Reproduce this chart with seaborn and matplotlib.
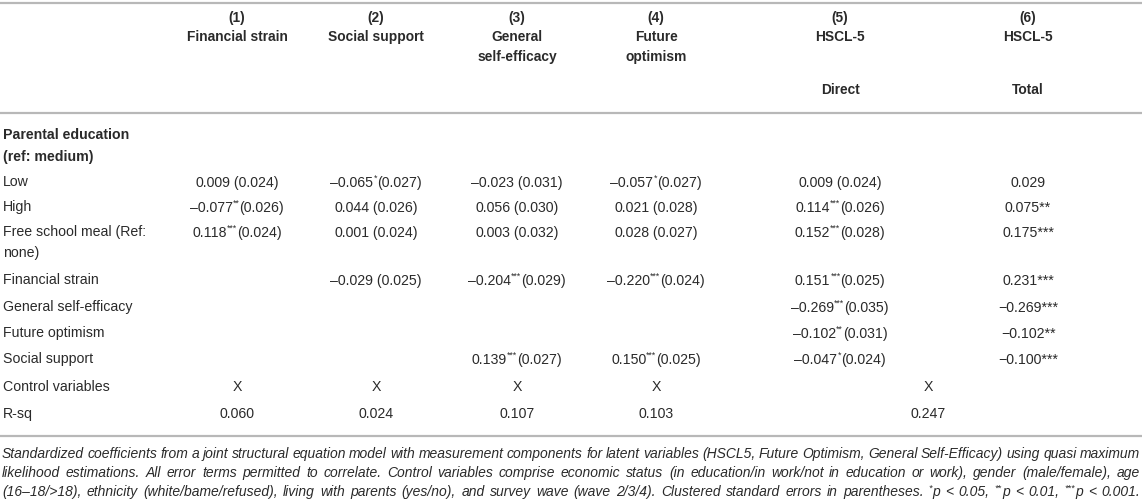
import numpy as np
import matplotlib
matplotlib.use("Agg")
import matplotlib.pyplot as plt
import seaborn as sns

# header of the table
col_nums = ["(1)", "(2)", "(3)", "(4)", "(5)", "(6)"]
col_names = ["Financial strain", "Social support", "General\nself-efficacy", "Future\noptimism", "HSCL-5", "HSCL-5"]
col_sub = ["", "", "", "", "Direct", "Total"]

# row labels of the coefficient block
row_labels = ["Low", "High", "Free school meal (Ref:\nnone)", "Financial strain",
              "General self-efficacy", "Future optimism", "Social support"]

# (1) Financial strain
fin_b = [0.009, -0.077, 0.118, np.nan, np.nan, np.nan, np.nan]
fin_se = [0.024, 0.026, 0.024, np.nan, np.nan, np.nan, np.nan]
fin_sig = ["", "**", "***", "", "", "", ""]
# (2) Social support
soc_b = [-0.065, 0.044, 0.001, -0.029, np.nan, np.nan, np.nan]
soc_se = [0.027, 0.026, 0.024, 0.025, np.nan, np.nan, np.nan]
soc_sig = ["*", "", "", "", "", "", ""]
# (3) General self-efficacy
gse_b = [-0.023, 0.056, 0.003, -0.204, np.nan, np.nan, 0.139]
gse_se = [0.031, 0.030, 0.032, 0.029, np.nan, np.nan, 0.027]
gse_sig = ["", "", "", "***", "", "", "***"]
# (4) Future optimism
fo_b = [-0.057, 0.021, 0.028, -0.220, np.nan, np.nan, 0.150]
fo_se = [0.027, 0.028, 0.027, 0.024, np.nan, np.nan, 0.025]
fo_sig = ["*", "", "", "***", "", "", "***"]
# (5) HSCL-5 direct
dir_b = [0.009, 0.114, 0.152, 0.151, -0.269, -0.102, -0.047]
dir_se = [0.024, 0.026, 0.028, 0.025, 0.035, 0.031, 0.024]
dir_sig = ["", "***", "***", "***", "***", "**", "*"]
# (6) HSCL-5 total
tot_b = [0.029, 0.075, 0.175, 0.231, -0.269, -0.102, -0.100]
tot_sig = ["", "**", "***", "***", "***", "**", "***"]

controls = ["X", "X", "X", "X", "X"]
r_sq = [0.060, 0.024, 0.107, 0.103, 0.247]

note_lines = [
    "Standardized coefficients from a joint structural equation model with measurement components for latent variables (HSCL5, Future Optimism, General Self-Efficacy) using quasi maximum",
    "likelihood estimations. All error terms permitted to correlate. Control variables comprise economic status (in education/in work/not in education or work), gender (male/female), age",
    "(16\u201318/>18), ethnicity (white/bame/refused), living with parents (yes/no), and survey wave (wave 2/3/4). Clustered standard errors in parentheses. *p < 0.05, **p < 0.01, ***p < 0.001.",
]

# layout (pixels)
col_x = [237, 376, 517, 656, 840, 1028]
x_joint = 928
row_y = [183, 208, 233, 281, 308, 334, 360]
y_controls, y_rsq = 387, 414

sns.set_theme(style="white")
plt.rcParams["font.family"] = ["Liberation Sans", "DejaVu Sans"]

TXT = "#2a2a2a"
RULE = "#b8b8b8"
FS = 10.2

fig = plt.figure(figsize=(11.42, 5.04), dpi=100)
ax = fig.add_axes([0, 0, 1, 1])
ax.set_xlim(0, 1142)
ax.set_ylim(504, 0)
ax.axis("off")
renderer = fig.canvas.get_renderer()


def fmt(v, minus="\u2013"):
    return (minus if v < 0 else "") + f"{abs(v):.3f}"


def coef_cell(x, y, b, sig, se):
    if np.isnan(b):
        return
    se_txt = f"({se:.3f})" if sig else f" ({se:.3f})"
    t1 = ax.text(0, y, fmt(b), fontsize=FS, color=TXT, va="center")
    t2 = ax.text(0, y - 5, sig, fontsize=FS * 0.62, color=TXT, va="center")
    t3 = ax.text(0, y, se_txt, fontsize=FS, color=TXT, va="center")
    w1 = t1.get_window_extent(renderer).width
    w2 = t2.get_window_extent(renderer).width if sig else 0
    w3 = t3.get_window_extent(renderer).width
    x0 = x - (w1 + w2 + w3) / 2
    t1.set_x(x0)
    t2.set_x(x0 + w1)
    t3.set_x(x0 + w1 + w2)


# rules
for yy in [3, 113, 436]:
    ax.axhline(yy, color=RULE, lw=1.6)

# header
for x, n, name, sub in zip(col_x, col_nums, col_names, col_sub):
    ax.text(x, 18, n, ha="center", va="center", fontsize=FS * 0.97, fontweight="bold", color=TXT)
    ax.text(x, 30, name, ha="center", va="top", fontsize=FS * 0.97, fontweight="bold",
            color=TXT, linespacing=1.55)
    if sub:
        ax.text(x, 90, sub, ha="center", va="center", fontsize=FS * 0.97, fontweight="bold", color=TXT)

# row labels
ax.text(3, 135, "Parental education", va="center", fontsize=FS, fontweight="bold", color=TXT)
ax.text(3, 157, "(ref: medium)", va="center", fontsize=FS, fontweight="bold", color=TXT)
for y, lab in zip(row_y, row_labels):
    ax.text(3, y - 8, lab, va="top", fontsize=FS, color=TXT, linespacing=1.6)
ax.text(3, y_controls, "Control variables", va="center", fontsize=FS, color=TXT)
ax.text(3, y_rsq, "R-sq", va="center", fontsize=FS, color=TXT)

# coefficient cells
model_cols = [(fin_b, fin_sig, fin_se), (soc_b, soc_sig, soc_se), (gse_b, gse_sig, gse_se),
              (fo_b, fo_sig, fo_se), (dir_b, dir_sig, dir_se)]
for x, (bs, sigs, ses) in zip(col_x[:5], model_cols):
    for y, b, sig, se in zip(row_y, bs, sigs, ses):
        coef_cell(x, y, b, sig, se)

for y, b, sig in zip(row_y, tot_b, tot_sig):
    minus = "\u2013" if y < 270 else "\u2212"
    ax.text(col_x[5], y, fmt(b, minus) + sig, ha="center", va="center", fontsize=FS, color=TXT)

# controls and R-sq
ctrl_x = col_x[:4] + [x_joint]
for x, c, r in zip(ctrl_x, controls, r_sq):
    ax.text(x, y_controls, c, ha="center", va="center", fontsize=FS, color=TXT)
    ax.text(x, y_rsq, f"{r:.3f}", ha="center", va="center", fontsize=FS, color=TXT)

# footnote, justified over the full width, narrow italic face
note_font = ["Liberation Sans Narrow", "Liberation Sans", "DejaVu Sans"]
note_fs = 10.3
left, right = 2, 1140


def note_word(w, y, fs):
    # leading significance stars are set small and raised
    stars = len(w) - len(w.lstrip("*")) if not w.startswith("*)") else 0
    parts = []
    if stars:
        parts.append(ax.text(0, y - 4, w[:stars], fontsize=fs * 0.65, style="italic",
                             family=note_font, color=TXT, va="center"))
    parts.append(ax.text(0, y, w[stars:], fontsize=fs, style="italic",
                         family=note_font, color=TXT, va="center"))
    return parts


def layout_line(line, y, fs):
    words = [note_word(w, y, fs) for w in line.split(" ")]
    widths = [[p.get_window_extent(renderer).width for p in parts] for parts in words]
    return words, widths


# shrink the note size if the face is too wide for the lines
space_w = None
probe = ax.text(0, 0, "a a", fontsize=note_fs, style="italic", family=note_font)
probe2 = ax.text(0, 0, "aa", fontsize=note_fs, style="italic", family=note_font)
space_w = probe.get_window_extent(renderer).width - probe2.get_window_extent(renderer).width
probe.remove()
probe2.remove()
need = []
for line in note_lines:
    words, widths = layout_line(line, -50, note_fs)
    need.append(sum(sum(w) for w in widths) + space_w * (len(words) - 1))
    for parts in words:
        for p in parts:
            p.remove()
if max(need) > right - left:
    note_fs *= (right - left) / max(need)

for y, line in zip([454, 473, 492], note_lines):
    words, widths = layout_line(line, y, note_fs)
    total = sum(sum(w) for w in widths)
    gap = (right - left - total) / (len(words) - 1)
    x = left
    for parts, ws in zip(words, widths):
        for p, w in zip(parts, ws):
            p.set_x(x)
            x += w
        x += gap

fig.savefig("out.png", dpi=100)
